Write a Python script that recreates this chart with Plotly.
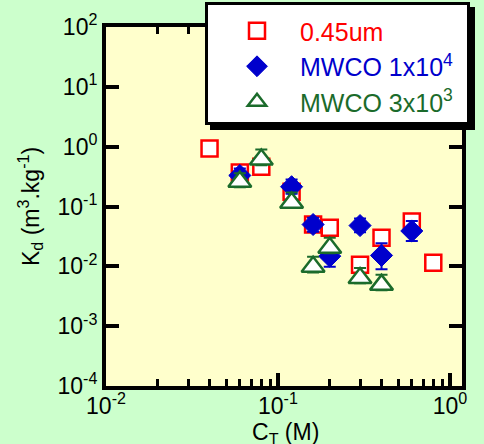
import plotly.graph_objects as go

# 0.45um filtered (open red squares)
x_045 = [0.04, 0.06, 0.08, 0.12, 0.16, 0.2, 0.3, 0.4, 0.6, 0.8]
y_045 = [0.93, 0.37, 0.46, 0.177, 0.05, 0.044, 0.0106, 0.030, 0.056, 0.0115]

# MWCO 1x10^4 (filled blue diamonds)
x_1e4 = [0.06, 0.12, 0.16, 0.2, 0.3, 0.4, 0.6]
y_1e4 = [0.33, 0.214, 0.05, 0.0148, 0.048, 0.0152, 0.039]
e_1e4_minus = [0.08, 0.05, 0.012, 0.005, 0.011, 0.0063, 0.0125]
e_1e4_plus = [0.1, 0.07, 0.015, 0.007, 0.015, 0.009, 0.018]

# MWCO 3x10^3 (open green triangles)
x_3e3 = [0.06, 0.08, 0.12, 0.16, 0.2, 0.3, 0.4]
y_3e3 = [0.26, 0.61, 0.116, 0.0098, 0.0205, 0.0064, 0.0049]
e_3e3_plus = [0.1, 0.29, 0.055, 0.0046, 0.0095, 0.003, 0.0023]
e_3e3_minus = [0.05, 0.12, 0.022, 0.0019, 0.004, 0.0012, 0.0009]

x_major = [0.01, 0.1, 1]
x_major_text = ["10<sup>-2</sup>", "10<sup>-1</sup>", "10<sup>0</sup>"]
x_minor = [m * d for d in [0.01, 0.1] for m in range(2, 10)]
y_major = [1e-4, 1e-3, 1e-2, 1e-1, 1, 10, 100]
y_major_text = ["10<sup>-4</sup>", "10<sup>-3</sup>", "10<sup>-2</sup>", "10<sup>-1</sup>",
                "10<sup>0</sup>", "10<sup>1</sup>", "10<sup>2</sup>"]

x_title = "C<sub>T</sub> (M)"
y_title = "K<sub>d</sub> (m<sup>3</sup>.kg<sup>-1</sup>)"

RED = "#FF0000"
BLUE = "#0000CC"
GREEN = "#1B6B2B"
FONT = "Liberation Sans, Arial, sans-serif"

fig = go.Figure()
fig.add_trace(go.Scatter(
    x=x_045, y=y_045, mode="markers", legendgroup="a",
    name="<span style='color:#FF0000'>0.45um</span>",
    marker=dict(symbol="square", size=16, color="white", line=dict(color=RED, width=2.5)),
))
fig.add_trace(go.Scatter(
    x=x_1e4, y=y_1e4, mode="markers", legendgroup="b",
    name="<span style='color:#0000CC'>MWCO 1x10<sup>4</sup></span>",
    marker=dict(symbol="diamond", size=17, color=BLUE, line=dict(color=BLUE, width=1)),
    error_y=dict(type="data", symmetric=False, array=e_1e4_plus, arrayminus=e_1e4_minus,
                 color=BLUE, thickness=2, width=6),
))
fig.add_trace(go.Scatter(
    x=x_3e3, y=y_3e3, mode="markers", legendgroup="c",
    name="<span style='color:#1B6B2B'>MWCO 3x10<sup>3</sup></span>",
    marker=dict(symbol="triangle-up", size=20, color="white", line=dict(color=GREEN, width=2.5)),
    error_y=dict(type="data", symmetric=False, array=e_3e3_plus, arrayminus=e_3e3_minus,
                 color=GREEN, thickness=2, width=6),
))

W, H = 484, 444
ml, mr, mt, mb = 106, 22, 27, 58
pw, ph = W - ml - mr, H - mt - mb


def px(xp):
    return (xp - ml) / pw


def py(yp):
    return (H - mb - yp) / ph


# legend box: shadow + white box with black border
fig.add_shape(type="rect", xref="paper", yref="paper", layer="above",
              x0=px(210), x1=px(475), y0=py(130), y1=py(7),
              fillcolor="black", line=dict(width=0))
fig.add_shape(type="rect", xref="paper", yref="paper", layer="above",
              x0=px(206.5), x1=px(468.5), y0=py(123.5), y1=py(3.5),
              fillcolor="white", line=dict(color="black", width=3))

# axis titles
fig.add_annotation(text=x_title, xref="paper", yref="paper", x=px(285), y=py(433),
                   xanchor="center", yanchor="middle", showarrow=False,
                   font=dict(family=FONT, size=23, color="black"))
fig.add_annotation(text=y_title, xref="paper", yref="paper", x=px(30), y=py(207),
                   xanchor="center", yanchor="middle", showarrow=False, textangle=-90,
                   font=dict(family=FONT, size=23, color="black"))

fig.update_layout(
    width=W, height=H,
    margin=dict(l=ml, r=mr, t=mt, b=mb, autoexpand=False),
    paper_bgcolor="#CCFFCC", plot_bgcolor="#FFFFCC",
    font=dict(family=FONT, size=23, color="black"),
    showlegend=True,
    legend=dict(
        x=px(214), y=py(8), xanchor="left", yanchor="top",
        bgcolor="rgba(0,0,0,0)", borderwidth=0,
        font=dict(family=FONT, size=25), itemwidth=76, tracegroupgap=0,
    ),
)
fig.update_xaxes(
    type="log", range=[-2, 0.07], automargin=False,
    tickvals=x_major, ticktext=x_major_text, ticklabelstandoff=-4,
    ticks="inside", ticklen=13, tickwidth=4, tickcolor="black",
    minor=dict(tickvals=x_minor, ticks="inside", ticklen=7, tickwidth=3, tickcolor="black"),
    showline=True, linewidth=4, linecolor="black", mirror="ticks",
    showgrid=False, zeroline=False,
    tickfont=dict(family=FONT, size=23),
)
fig.update_yaxes(
    type="log", range=[-4, 2], automargin=False,
    tickvals=y_major, ticktext=y_major_text,
    ticks="inside", ticklen=13, tickwidth=4, tickcolor="black",
    showline=True, linewidth=4, linecolor="black", mirror="ticks",
    showgrid=False, zeroline=False,
    tickfont=dict(family=FONT, size=23),
)

fig.write_html("out.html")
